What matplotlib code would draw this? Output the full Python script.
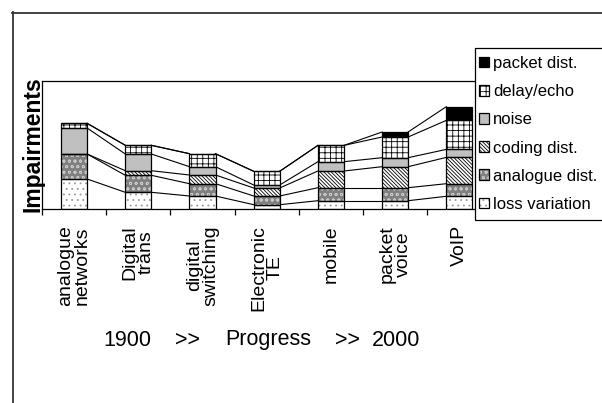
import matplotlib
matplotlib.use('Agg')
import matplotlib.pyplot as plt
import numpy as np
from matplotlib.lines import Line2D
from matplotlib.patches import Rectangle
from matplotlib.ticker import NullFormatter

plt.rcParams['font.family'] = ['Liberation Sans', 'DejaVu Sans']
plt.rcParams['hatch.linewidth'] = 0.6

categories = ['analogue\nnetworks', 'Digital\ntrans', 'digital\nswitching',
              'Electronic\nTE', 'mobile', 'packet\nvoice', 'VoIP']
series_names = ['loss variation', 'analogue dist.', 'coding dist.',
                'noise', 'delay/echo', 'packet dist.']
loss_variation = [30.0, 16.7, 13.0, 4.3, 8.3, 8.3, 12.7]
analogue_dist = [25.0, 17.0, 12.3, 8.7, 13.0, 13.0, 12.6]
coding_dist = [0.0, 4.6, 8.7, 8.0, 16.7, 21.0, 26.3]
noise = [26.0, 16.7, 8.3, 3.0, 9.3, 9.0, 8.0]
delay_echo = [4.7, 8.7, 13.0, 13.7, 16.3, 20.7, 29.0]
packet_dist = [0.0, 0.0, 0.0, 0.0, 0.0, 5.0, 13.7]
values = [loss_variation, analogue_dist, coding_dist, noise, delay_echo, packet_dist]
progress_words = ['1900', '>>', 'Progress', '>>', '2000']

styles = [
    dict(fc='white', hatch='...', hc='#9a9a9a'),
    dict(fc='#808080', hatch='ooo', hc='#c8c8c8'),
    dict(fc='white', hatch='\\' * 9, hc='black'),
    dict(fc='#c0c0c0', hatch='', hc='#c0c0c0'),
    dict(fc='white', hatch='+++', hc='black'),
    dict(fc='black', hatch='', hc='black'),
]

W, H = 602, 403
fig = plt.figure(figsize=(W / 100, H / 100), dpi=100)
ax = fig.add_axes([42 / W, 1 - 209 / H, (491.4 - 42) / W, 128 / H])

x = np.arange(len(categories))
w = 0.405
bottom = np.zeros(len(categories))
handles = []
levels = []
for vals, st in zip(values, styles):
    vals = np.array(vals)
    b1 = ax.bar(x, vals, w, bottom=bottom, color=st['fc'], edgecolor=st['hc'],
                hatch=st['hatch'], lw=0, zorder=2)
    b2 = ax.bar(x, vals, w, bottom=bottom, facecolor='none', edgecolor='black',
                lw=0.9, zorder=3)
    handles.append((b1.patches[0], b2.patches[0]))
    bottom = bottom + vals
    levels.append(bottom.copy())

for lev in levels:
    for i in range(len(x) - 1):
        ax.plot([x[i] + w / 2, x[i + 1] - w / 2], [lev[i], lev[i + 1]],
                color='black', lw=0.8, zorder=1)

ax.set_xlim(-0.5, len(categories) - 0.5)
ax.set_ylim(0, 128)
ax.set_yticks([])
ax.set_xticks(np.arange(-0.5, len(categories), 1))
ax.xaxis.set_major_formatter(NullFormatter())
ax.set_xticks(x, minor=True)
ax.set_xticklabels(categories, minor=True, rotation=90, fontsize=14, linespacing=0.95)
ax.tick_params(axis='x', which='major', length=4.3, width=0.9, direction='out')
ax.tick_params(axis='x', which='minor', length=0, pad=11.5)
for s in ax.spines.values():
    s.set_linewidth(0.9)
    s.set_color('black')

fig.text(33 / W, 1 - 144 / H, 'Impairments', rotation=90, fontsize=16.5,
         fontweight='bold', ha='center', va='center')

word_x = [103, 175, 225, 335, 372]
for wd, px in zip(progress_words, word_x):
    fig.text(px / W, 1 - 340 / H, wd, fontsize=15.5, ha='left', va='center')

# legend box
fig.add_artist(Rectangle((475 / W, 1 - 220 / H), 130 / W, 172 / H,
                         transform=fig.transFigure, facecolor='white',
                         edgecolor='black', lw=0.9, zorder=4))
leg = fig.legend([h for h in handles[::-1]], series_names[::-1], loc='upper left',
                 bbox_to_anchor=(479 / W, 1 - 56 / H), frameon=False,
                 prop={'size': 12},
                 handlelength=0.6, handleheight=0.6,
                 handletextpad=0.25, labelspacing=0.79,
                 borderpad=0, borderaxespad=0)
leg.set_zorder(5)

fig.add_artist(Line2D([12 / W, 1], [1 - 12.5 / H] * 2, transform=fig.transFigure,
                      color='#333333', lw=1.3))
fig.add_artist(Line2D([12.5 / W] * 2, [0, 1 - 12 / H], transform=fig.transFigure,
                      color='#333333', lw=1.3))

fig.savefig('out.png', dpi=100)
